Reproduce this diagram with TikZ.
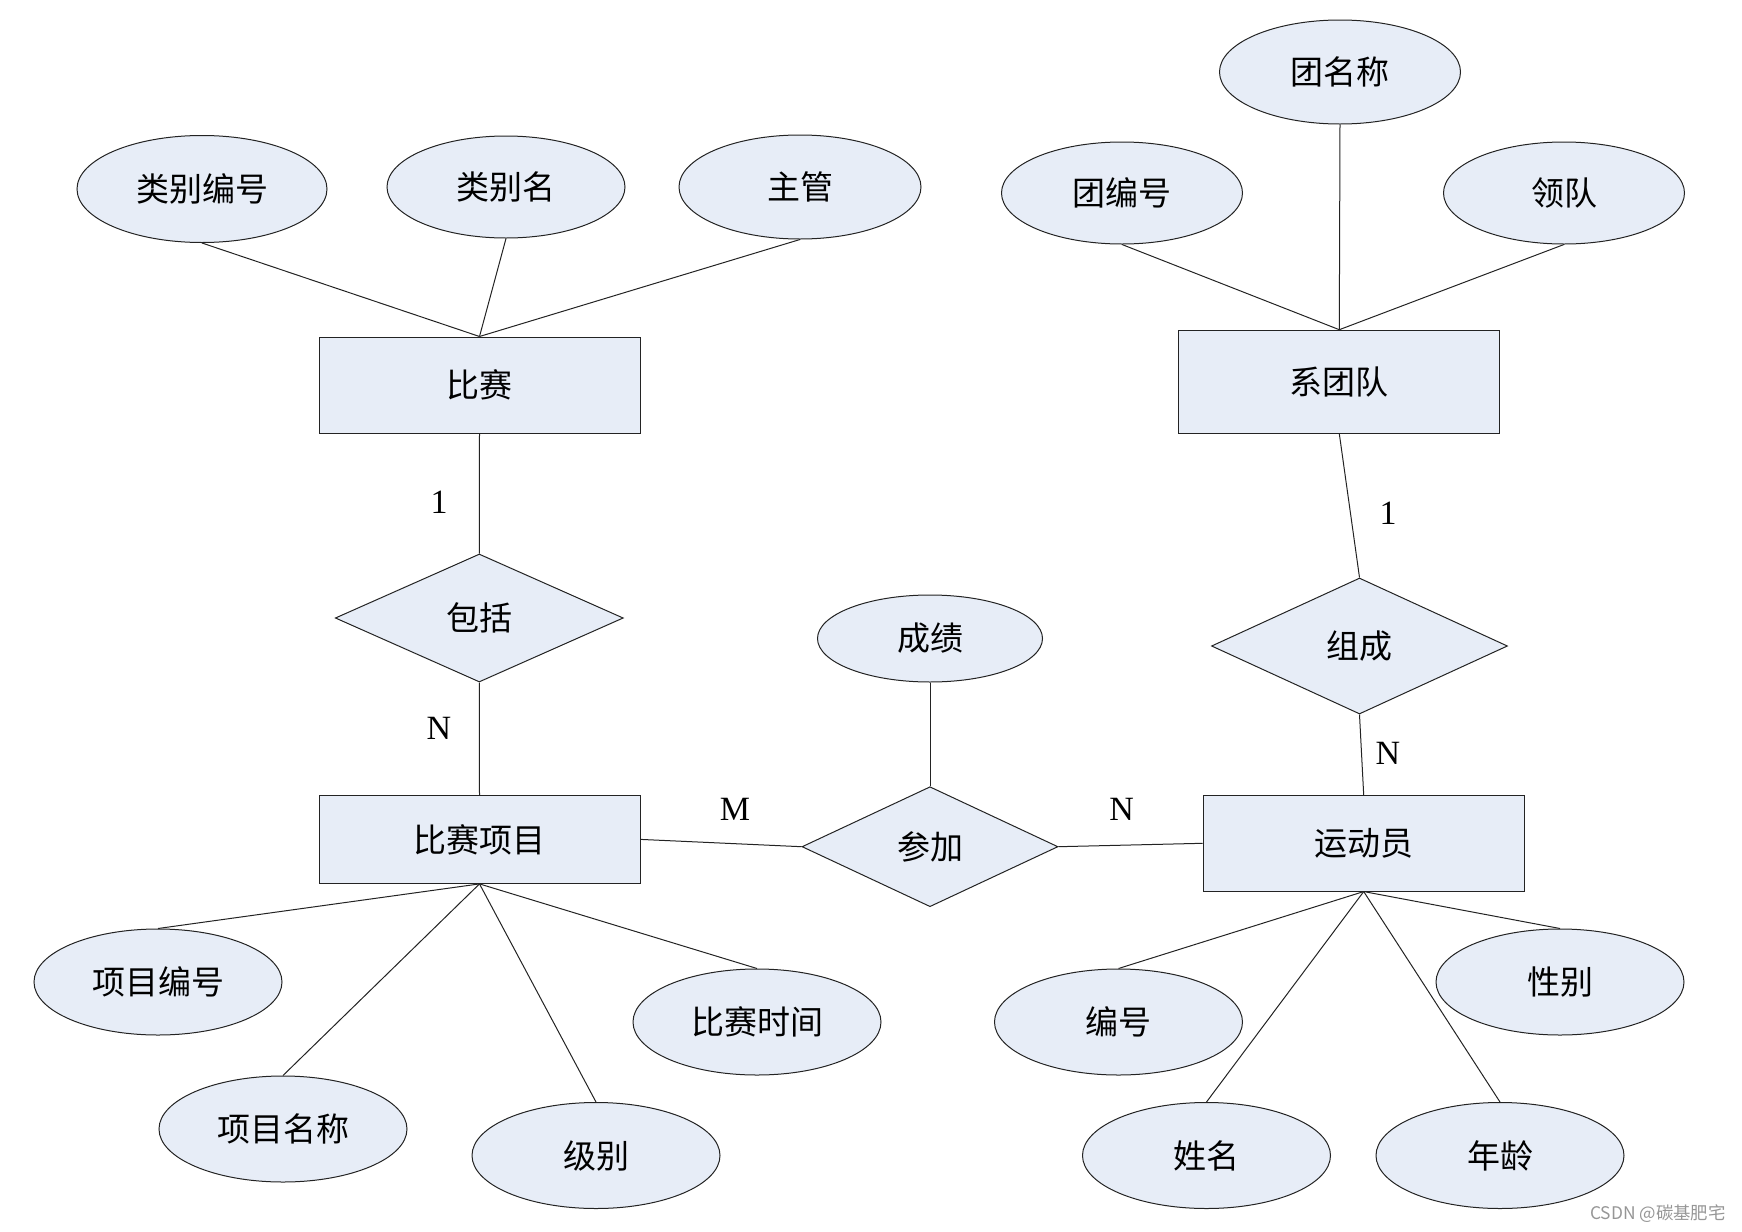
\documentclass[tikz,border=0pt]{standalone}
\usepackage{fontspec}
\setmainfont{Liberation Serif}
\newfontfamily\cjk{Noto Sans CJK SC}
\usetikzlibrary{shapes.geometric}
\definecolor{erfill}{RGB}{231,237,247}
\definecolor{erline}{RGB}{35,35,35}
\definecolor{wmgray}{RGB}{150,150,150}
\begin{document}
\begin{tikzpicture}[x=0.5pt,y=-0.5pt,
  base/.style={draw=erline,fill=erfill,line width=0.5pt,inner sep=0pt,font=\cjk\fontsize{16.5}{18}\selectfont},
  ent/.style={base,rectangle,minimum width=160.5pt},
  attr/.style={base,ellipse,minimum width=124pt,minimum height=53pt},
  rel/.style={base,diamond},
  card/.style={font=\fontsize{17}{20}\selectfont,inner sep=0pt},
  conn/.style={draw=erline,line width=0.5pt}]
\path[use as bounding box] (0,0) rectangle (1742,1232);

% entities
\node[ent,minimum height=48pt] (bs) at (479.5,385) {比赛};
\node[ent,minimum height=51.5pt] (xtd) at (1339.3,381.7) {系团队};
\node[ent,minimum height=44pt] (bsxm) at (479.5,839.4) {比赛项目};
\node[ent,minimum height=47.75pt] (ydy) at (1363.7,843.3) {运动员};

% relationships
\node[rel,minimum width=144pt,minimum height=64pt] (bk) at (479.3,618) {包括};
\node[rel,minimum width=148pt,minimum height=68pt] (zc) at (1359.5,646) {组成};
\node[rel,minimum width=128pt,minimum height=60pt] (cj) at (930,846.7) {参加};

% attributes of 比赛
\node[attr,minimum width=125pt,minimum height=53.5pt] (lbbh) at (202,189) {类别编号};
\node[attr,minimum width=119pt,minimum height=51pt] (lbm) at (506,187) {类别名};
\node[attr,minimum width=121pt,minimum height=52pt] (zg) at (800,187) {主管};
% attributes of 系团队
\node[attr,minimum width=120.5pt,minimum height=52pt] (tmc) at (1340,72) {团名称};
\node[attr,minimum width=120.5pt,minimum height=51pt] (tbh) at (1122,193) {团编号};
\node[attr,minimum width=120.5pt,minimum height=51pt] (ld) at (1564,193) {领队};
% attribute of 参加
\node[attr,minimum width=112.5pt,minimum height=43.5pt] (cjx) at (930,638.5) {成绩};
% attributes of 比赛项目
\node[attr] (xmbh) at (158,982) {项目编号};
\node[attr] (xmmc) at (283,1129) {项目名称};
\node[attr] (jb) at (596,1155.5) {级别};
\node[attr] (bssj) at (757,1022) {比赛时间};
% attributes of 运动员
\node[attr] (bh) at (1118.5,1022) {编号};
\node[attr] (xb) at (1560,982) {性别};
\node[attr] (xm) at (1206.5,1155.5) {姓名};
\node[attr] (nl) at (1500,1155.5) {年龄};

% connectors
\draw[conn] (lbbh.south) -- (bs.north);
\draw[conn] (lbm.south) -- (bs.north);
\draw[conn] (zg.south) -- (bs.north);
\draw[conn] (tmc.south) -- (xtd.north);
\draw[conn] (tbh.south) -- (xtd.north);
\draw[conn] (ld.south) -- (xtd.north);
\draw[conn] (bs.south) -- (bk.north);
\draw[conn] (bk.south) -- (bsxm.north);
\draw[conn] (xtd.south) -- (zc.north);
\draw[conn] (zc.south) -- (ydy.north);
\draw[conn] (bsxm.east) -- (cj.west);
\draw[conn] (cj.east) -- (ydy.west);
\draw[conn] (cjx.south) -- (cj.north);
\draw[conn] (bsxm.south) -- (xmbh.north);
\draw[conn] (bsxm.south) -- (xmmc.north);
\draw[conn] (bsxm.south) -- (jb.north);
\draw[conn] (bsxm.south) -- (bssj.north);
\draw[conn] (ydy.south) -- (bh.north);
\draw[conn] (ydy.south) -- (xb.north);
\draw[conn] (ydy.south) -- (xm.north);
\draw[conn] (ydy.south) -- (nl.north);

% cardinalities
\node[card] (c1) at (439,502) {1};
\node[card] (c2) at (439,728) {N};
\node[card] (c3) at (1388,513) {1};
\node[card] (c4) at (1388,753) {N};
\node[card] (c5) at (735,809) {M};
\node[card] (c6) at (1121.7,809) {N};

% watermark
\node[font=\cjk\fontsize{8.7}{10}\selectfont,text=wmgray,inner sep=0pt] (wm) at (1658,1213.5) {CSDN @碳基肥宅};
\end{tikzpicture}
\end{document}
